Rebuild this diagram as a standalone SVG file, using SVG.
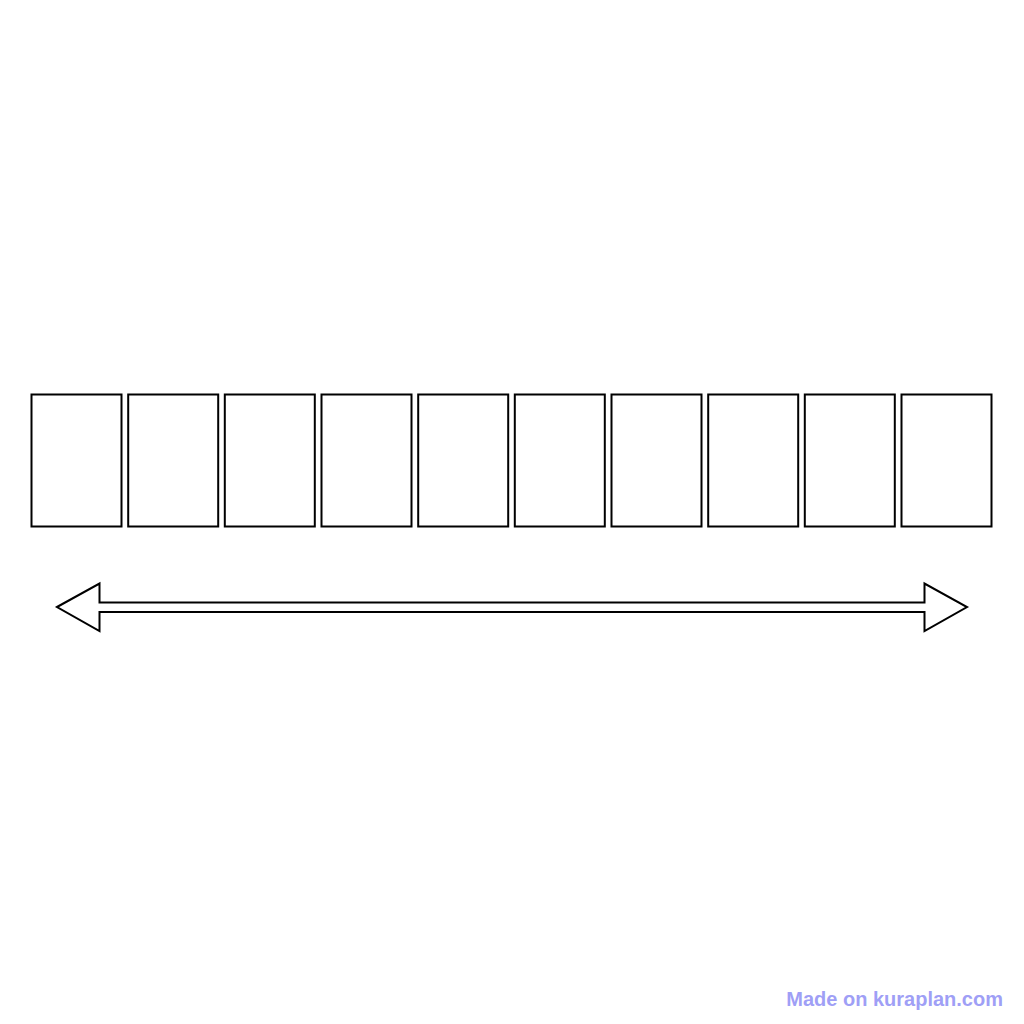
<svg xmlns="http://www.w3.org/2000/svg" width="1024" height="1024" viewBox="0 0 1024 1024">
<style>
.box{fill:#fff;stroke:#000;stroke-width:2}
.arrow{fill:#fff;stroke:#000;stroke-width:2;stroke-linejoin:miter}
.wm{font-family:"Liberation Sans",Arial,sans-serif;font-weight:bold;font-size:20px;fill:#9f9ff6}
</style>
<rect width="1024" height="1024" fill="#fff"/>
<g id="boxes">
<g id="box1"><rect class="box" x="31.5" y="394.5" width="90" height="132"/></g>
<g id="box2"><rect class="box" x="128.2" y="394.5" width="90" height="132"/></g>
<g id="box3"><rect class="box" x="224.8" y="394.5" width="90" height="132"/></g>
<g id="box4"><rect class="box" x="321.5" y="394.5" width="90" height="132"/></g>
<g id="box5"><rect class="box" x="418.2" y="394.5" width="90" height="132"/></g>
<g id="box6"><rect class="box" x="514.8" y="394.5" width="90" height="132"/></g>
<g id="box7"><rect class="box" x="611.5" y="394.5" width="90" height="132"/></g>
<g id="box8"><rect class="box" x="708.2" y="394.5" width="90" height="132"/></g>
<g id="box9"><rect class="box" x="804.8" y="394.5" width="90" height="132"/></g>
<g id="box10"><rect class="box" x="901.5" y="394.5" width="90" height="132"/></g>
</g>
<g id="connectors">
<path class="arrow" d="M57,607 L99.5,583.5 L99.5,602.5 L924.5,602.5 L924.5,583.5 L967,607 L924.5,631 L924.5,612 L99.5,612 L99.5,631 Z"/>
</g>
<text class="wm" x="1003" y="1006" text-anchor="end">Made on kuraplan.com</text>
</svg>
